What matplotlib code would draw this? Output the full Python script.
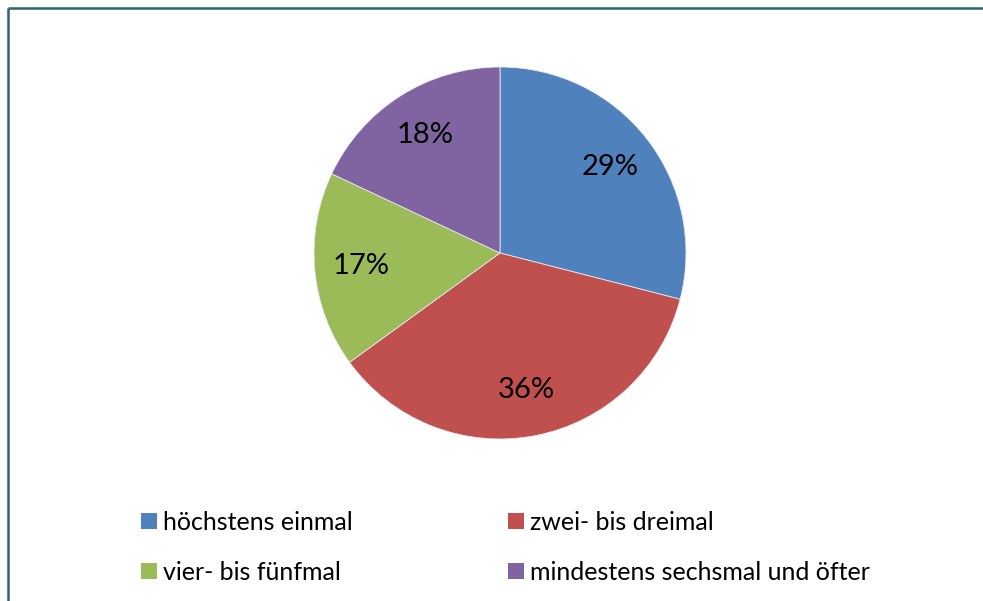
import matplotlib
matplotlib.use("Agg")
import matplotlib.pyplot as plt
from matplotlib.patches import Patch
from matplotlib.lines import Line2D

# data
labels = ["höchstens einmal", "zwei- bis dreimal", "vier- bis fünfmal",
          "mindestens sechsmal und öfter"]
shares = [29, 36, 17, 18]
colors = ["#4F81BD", "#C0504D", "#9BBB59", "#8064A2"]

plt.rcParams['font.family'] = ['Lato', 'DejaVu Sans']

W, H = 983, 601
fig = plt.figure(figsize=(W / 100, H / 100), dpi=100)

# pie centre (500, 253) px from top-left, radius 186 px
cx, cy, r = 500, 253, 186
ax = fig.add_axes([(cx - r) / W, (H - cy - r) / H, 2 * r / W, 2 * r / H])
wedges, texts, autotexts = ax.pie(
    shares, colors=colors, startangle=90, counterclock=False,
    autopct="%d%%", pctdistance=0.75,
    wedgeprops=dict(edgecolor="#e8e8f0", linewidth=0.6),
    textprops=dict(fontsize=21, color="black"))
ax.set_xlim(-1, 1)
ax.set_ylim(-1, 1)
ax.set_aspect("auto")
ax.axis("off")

# legend in two columns, filled row by row like the original
order = [0, 2, 1, 3]
handles = [Patch(facecolor=colors[i], edgecolor="none") for i in order]
fig.legend(handles, [labels[i] for i in order], ncol=2, loc="upper left",
           bbox_to_anchor=(141 / W, 1 - 511 / H), frameon=False,
           fontsize=18, handlelength=0.64, handleheight=0.64,
           handletextpad=0.24, columnspacing=6.2, labelspacing=1.08,
           borderaxespad=0, borderpad=0)

# frame lines on the left and top
fig.add_artist(Line2D([8 / W, 8 / W], [0, 1 - 8 / H], transform=fig.transFigure,
                      color="#2B6473", linewidth=1.8, solid_capstyle="butt"))
fig.add_artist(Line2D([8 / W, 1], [1 - 8 / H, 1 - 8 / H], transform=fig.transFigure,
                      color="#2B6473", linewidth=1.8, solid_capstyle="butt"))

fig.savefig("out.png", dpi=100)
